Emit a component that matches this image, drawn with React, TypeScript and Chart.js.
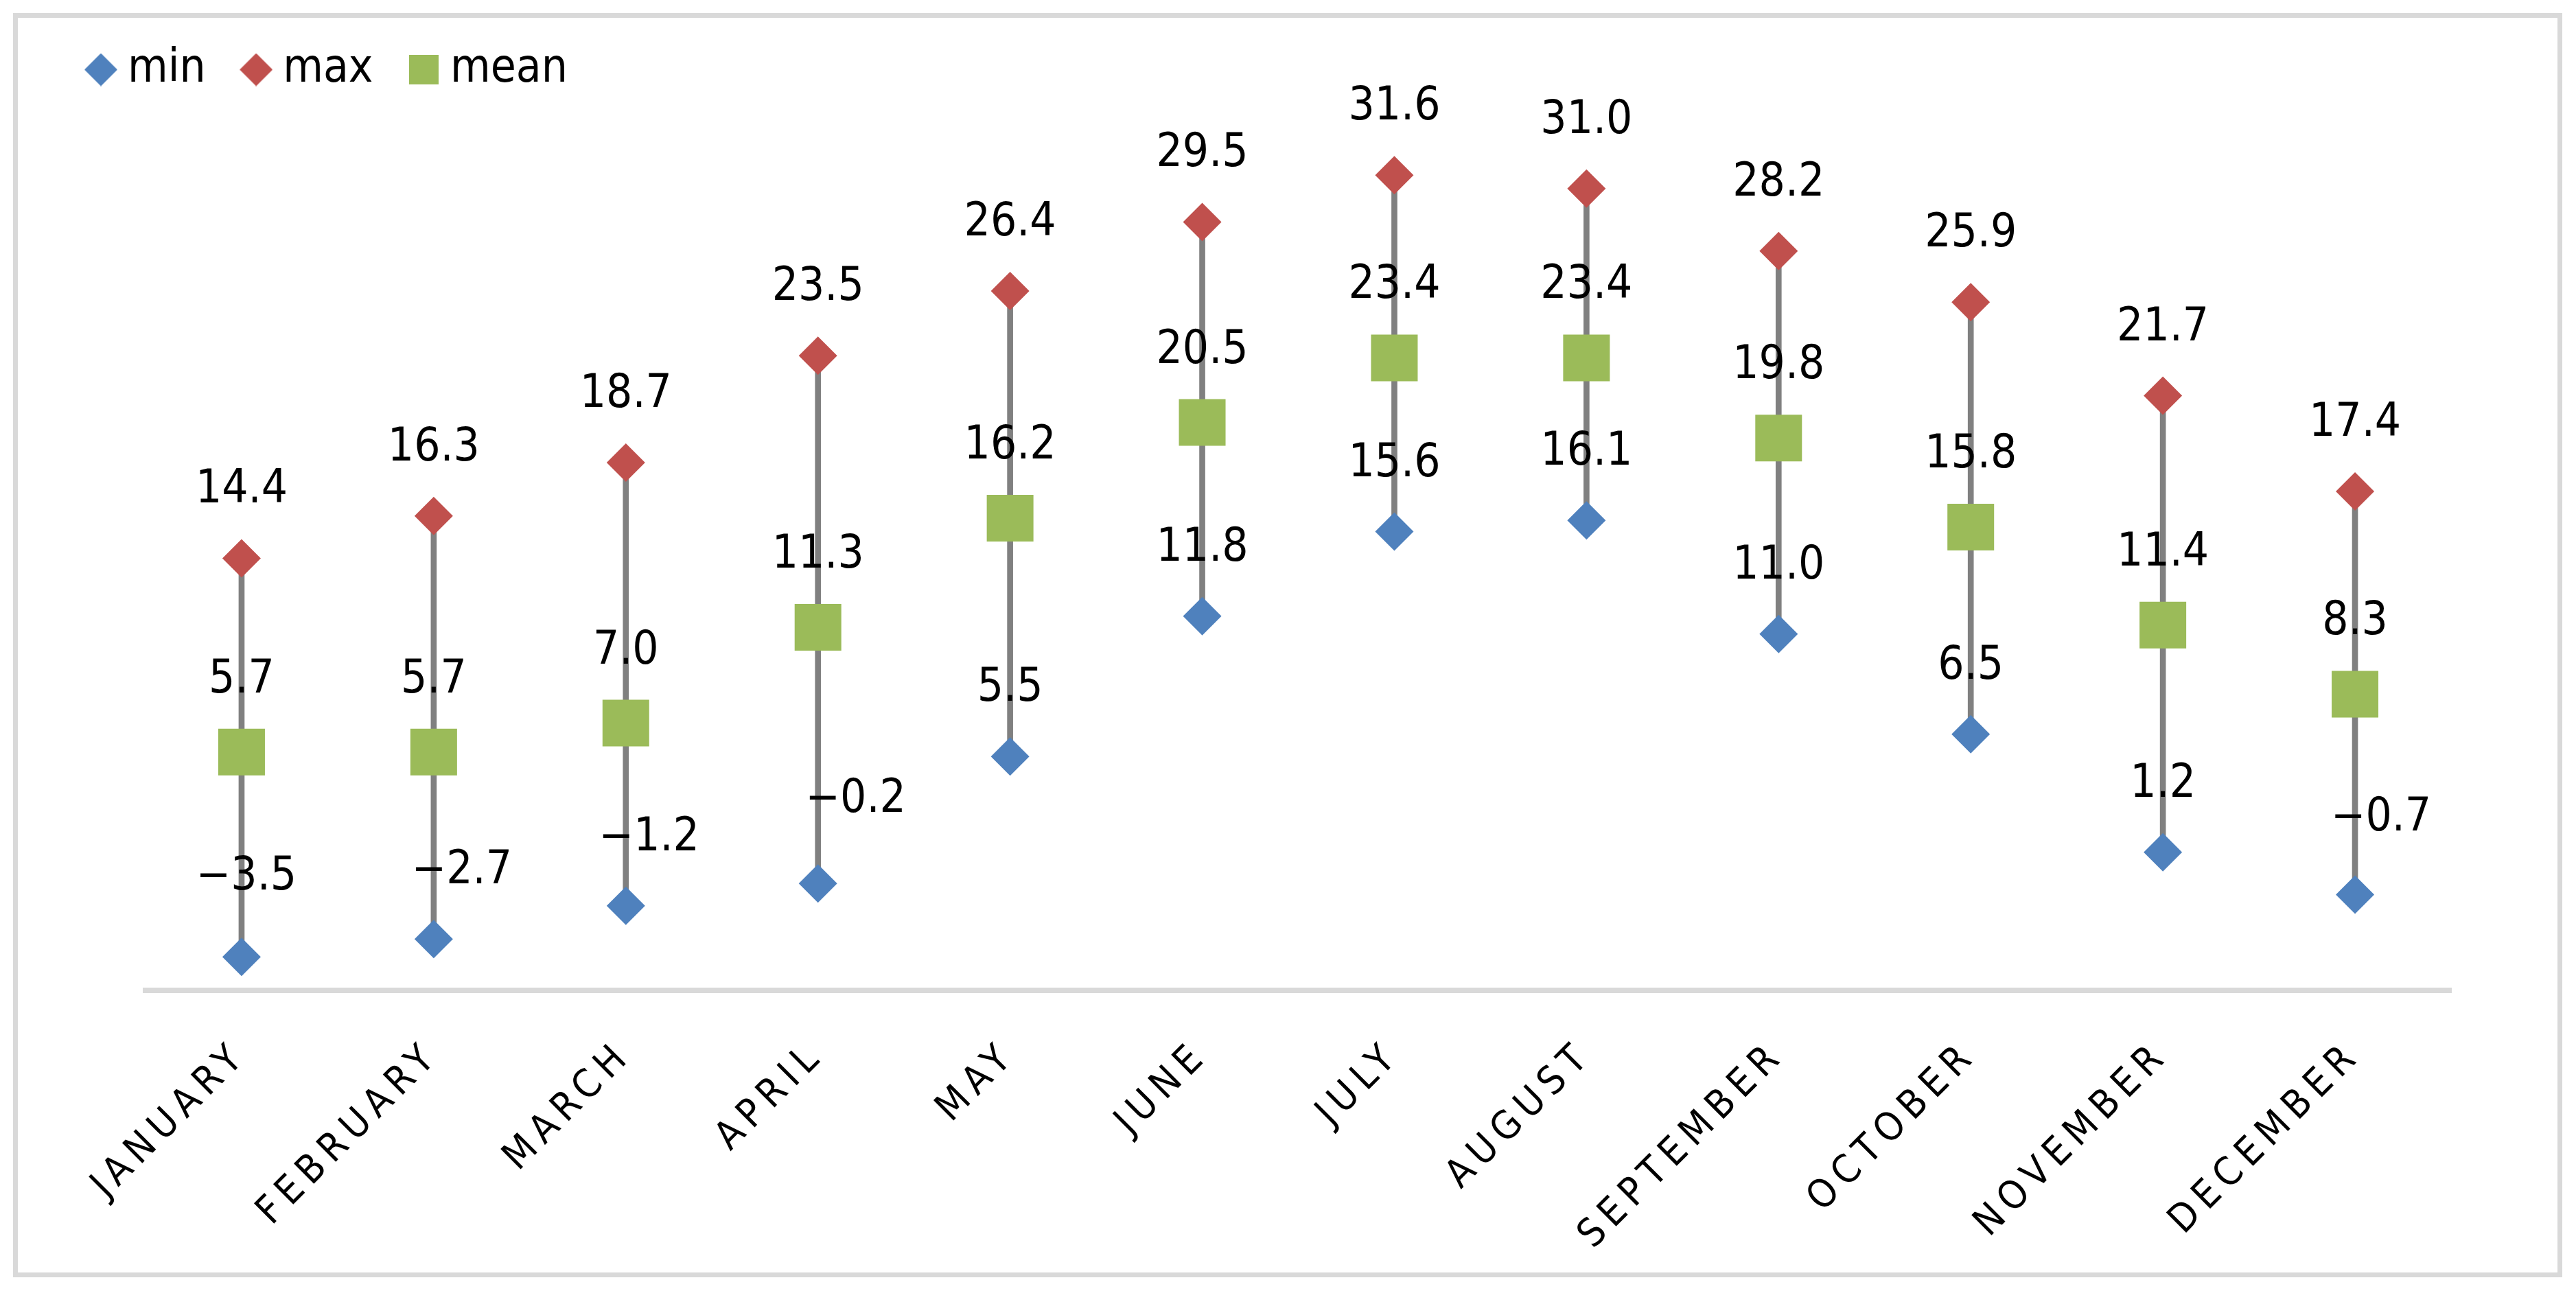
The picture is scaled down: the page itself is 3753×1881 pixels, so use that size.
import { useEffect, useRef } from 'react';
import { Chart, registerables } from 'chart.js';

Chart.register(...registerables);

// ---- data ----
const months = ['JANUARY', 'FEBRUARY', 'MARCH', 'APRIL', 'MAY', 'JUNE', 'JULY', 'AUGUST', 'SEPTEMBER', 'OCTOBER', 'NOVEMBER', 'DECEMBER'];
const minTemps = [-3.5, -2.7, -1.2, -0.2, 5.5, 11.8, 15.6, 16.1, 11.0, 6.5, 1.2, -0.7];
const maxTemps = [14.4, 16.3, 18.7, 23.5, 26.4, 29.5, 31.6, 31.0, 28.2, 25.9, 21.7, 17.4];
const meanTemps = [5.7, 5.7, 7.0, 11.3, 16.2, 20.5, 23.4, 23.4, 19.8, 15.8, 11.4, 8.3];
const seriesNames = ['min', 'max', 'mean'];
const yMin = -5;
const yMax = 35;

// ---- style ----
const FONT = "'DejaVu Sans Condensed', 'Liberation Sans', sans-serif";
const COLORS = { min: '#4F81BD', max: '#C0504D', mean: '#9BBB59', range: '#808080', frame: '#D9D9D9' };
const LABEL_SIZE = 67;
const TICK_SIZE = 57;
const TICK_SPACING = 10;
const DIAMOND_HALF = 28;
const SQUARE_HALF = 34;
const LABEL_GAP = 53;
// manual nudges of the min labels (px), as in the original
const minLabelShiftX = [7, 41, 34, 55, 0, 0, 0, 0, 0, 0, 0, 38];
const minLabelShiftY = [-17, 0, 0, -23, 0, 0, 0, 0, 0, 0, 0, -12];

const fmt = (v: number) => (v < 0 ? '\u2212' + Math.abs(v).toFixed(1) : v.toFixed(1));

function makeIcon(kind: 'diamond' | 'square', color: string, size: number) {
  const c = document.createElement('canvas');
  c.width = size;
  c.height = size;
  const g = c.getContext('2d')!;
  g.fillStyle = color;
  if (kind === 'diamond') {
    g.beginPath();
    g.moveTo(size / 2, 0);
    g.lineTo(size, size / 2);
    g.lineTo(size / 2, size);
    g.lineTo(0, size / 2);
    g.closePath();
    g.fill();
  } else {
    g.fillRect(0, 0, size, size);
  }
  return c;
}

const framePlugin = {
  id: 'frameAndLabels',
  beforeDraw(chart: any) {
    const ctx = chart.ctx;
    ctx.letterSpacing = '0px';
    ctx.save();
    ctx.strokeStyle = COLORS.frame;
    ctx.lineWidth = 7;
    ctx.strokeRect(22.5, 22.5, 3707, 1835);
    ctx.restore();
  },
  afterDatasetsDraw(chart: any) {
    const ctx = chart.ctx;
    ctx.save();
    ctx.letterSpacing = '0px';
    ctx.font = `${LABEL_SIZE}px ${FONT}`;
    ctx.fillStyle = '#000';
    ctx.textAlign = 'center';
    ctx.textBaseline = 'alphabetic';
    chart.data.datasets.forEach((ds: any, di: number) => {
      if (!ds.valueLabels) return;
      const meta = chart.getDatasetMeta(di);
      meta.data.forEach((el: any, i: number) => {
        const dx = ds.labelShiftX ? ds.labelShiftX[i] : 0;
        const dy = ds.labelShiftY ? ds.labelShiftY[i] : 0;
        ctx.fillText(fmt(ds.data[i]), el.x + dx, el.y - ds.markerHalf - LABEL_GAP + dy);
      });
    });
    ctx.restore();
    ctx.letterSpacing = `${TICK_SPACING}px`;
  },
  afterDraw(chart: any) {
    chart.ctx.letterSpacing = '0px';
  },
};

export default function App() {
  const ref = useRef<HTMLCanvasElement>(null);

  useEffect(() => {
    if (!ref.current) return;
    const icons = [
      makeIcon('diamond', COLORS.min, 48),
      makeIcon('diamond', COLORS.max, 48),
      makeIcon('square', COLORS.mean, 43),
    ];
    const chart = new Chart(ref.current, {
      type: 'line',
      data: {
        labels: months,
        datasets: [
          {
            label: seriesNames[0],
            data: minTemps,
            showLine: false,
            pointStyle: 'rectRot',
            pointRadius: DIAMOND_HALF,
            pointBackgroundColor: COLORS.min,
            pointBorderWidth: 0,
            borderWidth: 0,
            order: 1,
            valueLabels: true,
            markerHalf: DIAMOND_HALF,
            labelShiftX: minLabelShiftX,
            labelShiftY: minLabelShiftY,
          } as any,
          {
            label: seriesNames[1],
            data: maxTemps,
            showLine: false,
            pointStyle: 'rectRot',
            pointRadius: DIAMOND_HALF,
            pointBackgroundColor: COLORS.max,
            pointBorderWidth: 0,
            borderWidth: 0,
            order: 1,
            valueLabels: true,
            markerHalf: DIAMOND_HALF,
          } as any,
          {
            label: seriesNames[2],
            data: meanTemps,
            showLine: false,
            pointStyle: 'rect',
            pointRadius: SQUARE_HALF / Math.SQRT1_2,
            pointBackgroundColor: COLORS.mean,
            pointBorderWidth: 0,
            borderWidth: 0,
            order: 1,
            valueLabels: true,
            markerHalf: SQUARE_HALF,
          } as any,
          {
            type: 'bar',
            label: 'range',
            data: months.map((_, i) => [minTemps[i], maxTemps[i]]),
            backgroundColor: COLORS.range,
            barThickness: 8,
            borderWidth: 0,
            order: 5,
          } as any,
        ],
      },
      options: {
        animation: false,
        responsive: false,
        devicePixelRatio: 1,
        events: [],
        layout: { padding: { left: 73.5, right: 182, top: 0, bottom: 38 } },
        scales: {
          x: {
            type: 'category',
            offset: true,
            grid: { display: false, drawTicks: false },
            border: { display: true, color: COLORS.frame, width: 8 },
            ticks: {
              autoSkip: false,
              minRotation: 45,
              maxRotation: 45,
              padding: 62,
              color: '#000',
              font: { family: FONT, size: TICK_SIZE },
              z: 1,
            },
            afterFit: (s: any) => {
              s.height = 400;
            },
          },
          y: {
            min: yMin,
            max: yMax,
            grid: { display: false, drawTicks: false },
            border: { display: false },
            ticks: { display: false },
            afterFit: (s: any) => {
              s.width = 138.5;
            },
          },
        },
        plugins: {
          tooltip: { enabled: false },
          legend: {
            position: 'top',
            align: 'start',
            labels: {
              usePointStyle: true,
              pointStyleWidth: 11,
              padding: 68,
              color: '#000',
              font: { family: FONT, size: LABEL_SIZE },
              generateLabels: (c: any) =>
                c.data.datasets
                  .map((ds: any, i: number) => ({
                    text: ds.label,
                    fillStyle: ds.pointBackgroundColor,
                    strokeStyle: ds.pointBackgroundColor,
                    lineWidth: 0,
                    hidden: false,
                    datasetIndex: i,
                    pointStyle: icons[i],
                  }))
                  .filter((it: any) => it.pointStyle),
            },
          },
        },
      } as any,
      plugins: [framePlugin],
    });
    return () => chart.destroy();
  }, []);

  return (
    <div style={{ position: 'fixed', left: 0, top: 0, width: 3753, height: 1881, background: '#fff' }}>
      <canvas ref={ref} width={3753} height={1881} style={{ display: 'block', width: 3753, height: 1881 }} />
    </div>
  );
}
